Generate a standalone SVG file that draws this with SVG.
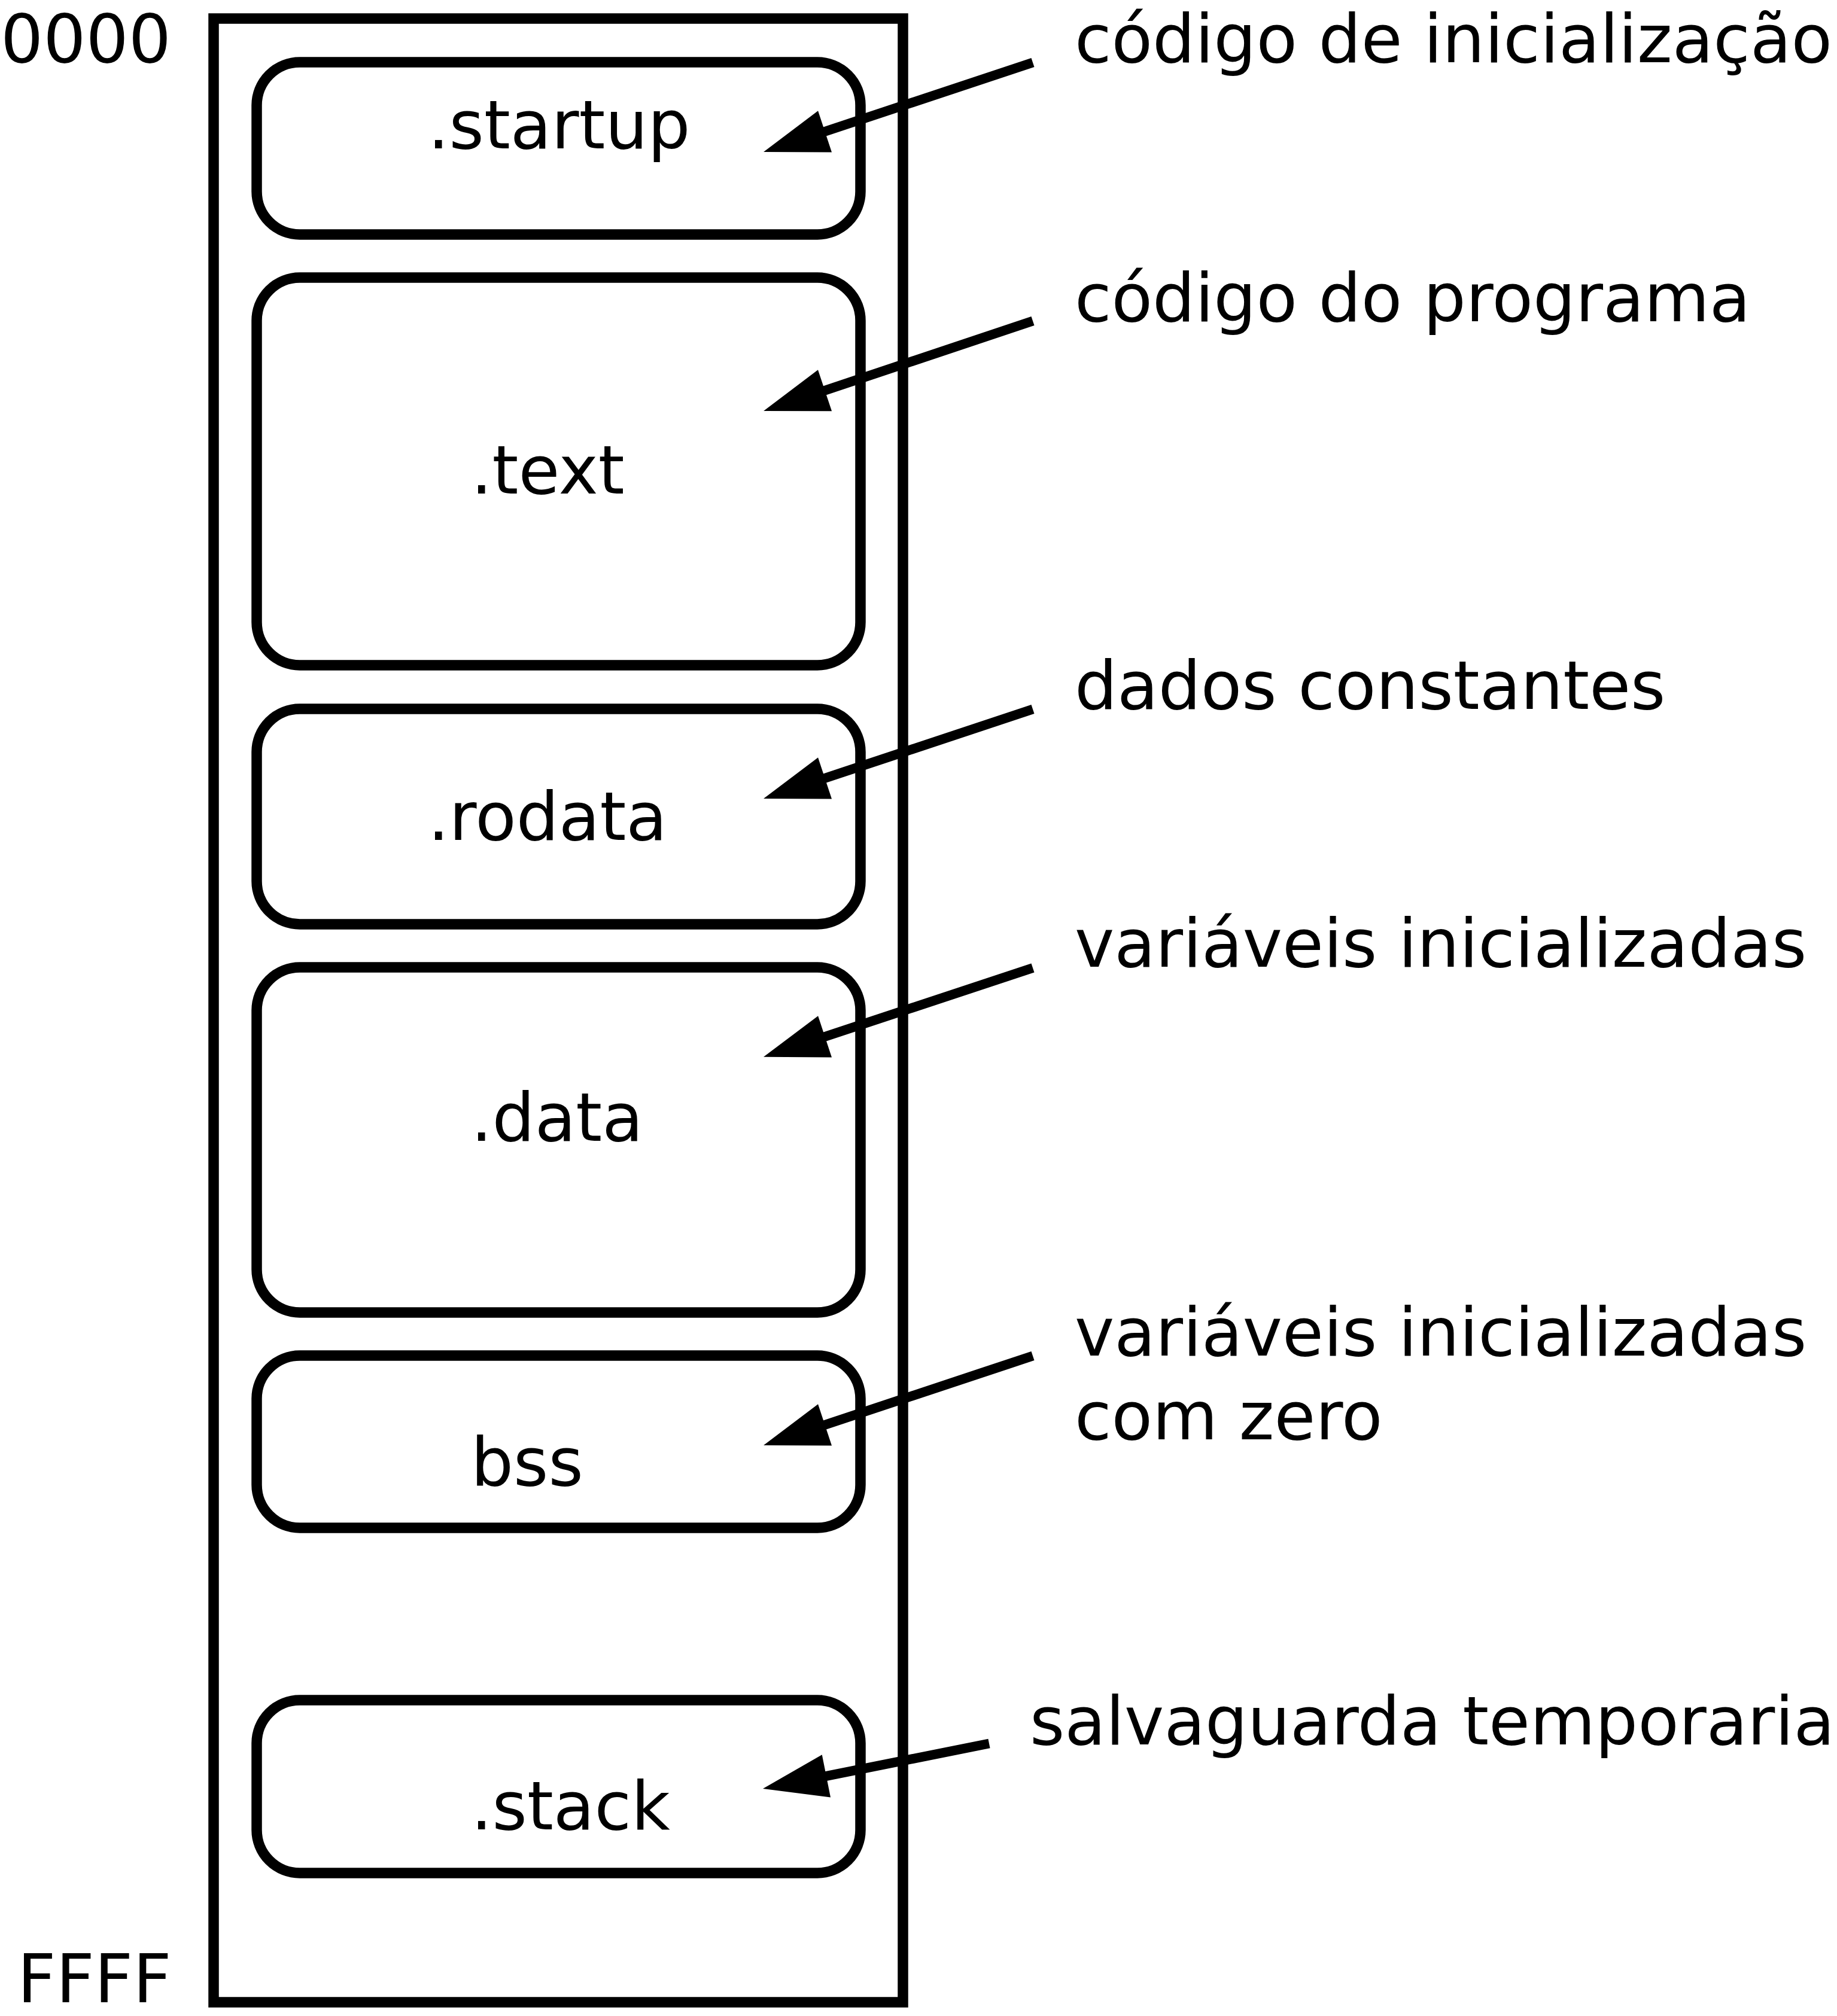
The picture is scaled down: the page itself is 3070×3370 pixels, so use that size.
<svg xmlns="http://www.w3.org/2000/svg" width="3070" height="3370" viewBox="0 0 3070 3370">
<style>
.box{fill:none;stroke:#000;stroke-width:17.5}
.t{font-family:"DejaVu Sans",sans-serif;font-size:112px;fill:#000}
.arr{fill:none;stroke:#000;stroke-width:16}
</style>
<defs>
<marker id="ah" markerUnits="userSpaceOnUse" markerWidth="120" markerHeight="80" viewBox="0 -40 110 80" refX="48" refY="0" orient="auto">
<path d="M0,-36.4 L108,0 L0,36.4 Z" fill="#000"/>
</marker>
</defs>
<rect width="3070" height="3370" fill="#fff"/>
<g id="memory">
<rect class="box" x="357" y="31" width="1152" height="3316"/>
<text class="t" x="1" y="104">0000</text>
<text class="t" x="29" y="3347">FFFF</text>
</g>
<g id="startup">
<rect class="box" x="429" y="104" width="1009" height="288" rx="72" ry="72"/>
<text class="t" x="715" y="248">.startup</text>
</g>
<g id="text">
<rect class="box" x="429" y="464" width="1009" height="648" rx="72" ry="72"/>
<text class="t" x="787" y="825">.text</text>
</g>
<g id="rodata">
<rect class="box" x="429" y="1185" width="1009" height="360" rx="72" ry="72"/>
<text class="t" x="715" y="1404">.rodata</text>
</g>
<g id="data">
<rect class="box" x="429" y="1617" width="1009" height="577" rx="72" ry="72"/>
<text class="t" x="787" y="1907">.data</text>
</g>
<g id="bss">
<rect class="box" x="429" y="2266" width="1009" height="288" rx="72" ry="72"/>
<text class="t" x="787" y="2483">bss</text>
</g>
<g id="stack">
<rect class="box" x="429" y="2842" width="1009" height="289" rx="72" ry="72"/>
<text class="t" x="787" y="3058">.stack</text>
</g>
<g id="labels">
<text class="t" x="1796" y="104">código de inicialização</text>
<text class="t" x="1796" y="537">código do programa</text>
<text class="t" x="1796" y="1185">dados constantes</text>
<text class="t" x="1796" y="1616">variáveis inicializadas</text>
<text class="t" x="1796" y="2266">variáveis inicializadas</text>
<text class="t" x="1796" y="2406">com zero</text>
<text class="t" x="1721" y="2916">salvaguarda temporaria</text>
</g>
<g id="connectors">
<line class="arr" x1="1726" y1="104.5" x2="1333" y2="235" marker-end="url(#ah)"/>
<line class="arr" x1="1726" y1="536.5" x2="1333" y2="668" marker-end="url(#ah)"/>
<line class="arr" x1="1726" y1="1185.5" x2="1333" y2="1316" marker-end="url(#ah)"/>
<line class="arr" x1="1726" y1="1618" x2="1333" y2="1748" marker-end="url(#ah)"/>
<line class="arr" x1="1726" y1="2266.5" x2="1333" y2="2397" marker-end="url(#ah)"/>
<line class="arr" x1="1653" y1="2914.5" x2="1333.8" y2="2978.3" marker-end="url(#ah)"/>
</g>
</svg>
